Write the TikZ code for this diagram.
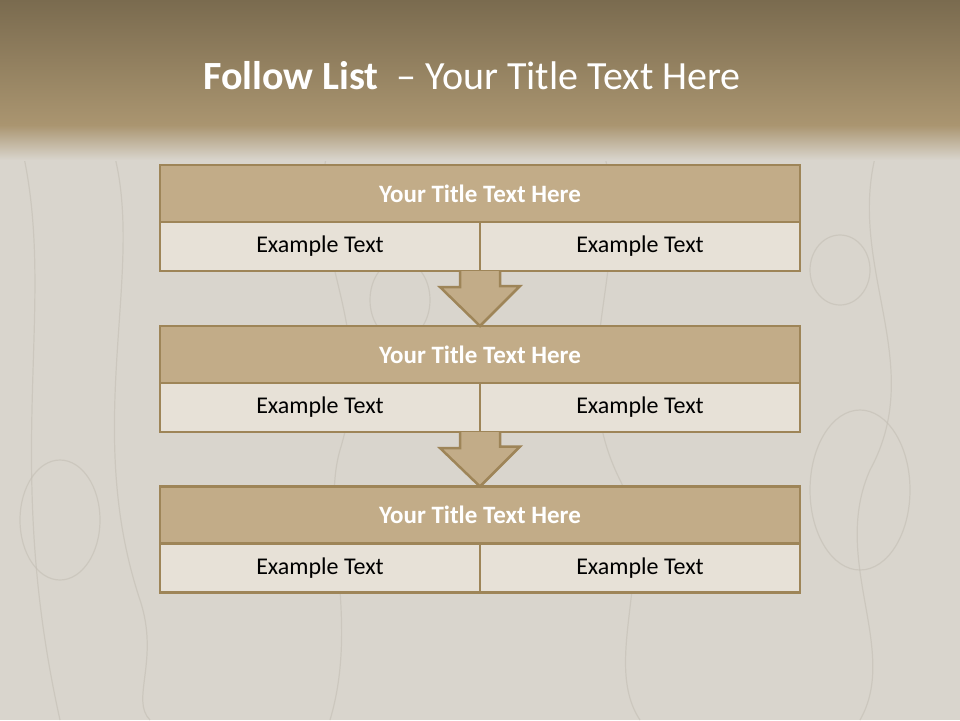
\documentclass[tikz,border=0pt]{standalone}
\usepackage{fontspec}
\setmainfont{Carlito}
\usetikzlibrary{calc}
\definecolor{edge}{HTML}{9E8558}
\definecolor{headfill}{HTML}{C2AC88}
\definecolor{rowfill}{HTML}{E7E1D7}
\definecolor{bandtop}{HTML}{7A6B4F}
\definecolor{bandbot}{HTML}{AA9570}
\definecolor{wood}{HTML}{D9D5CD}
\definecolor{grain}{HTML}{C4BFB5}
\tikzset{
  header/.style={draw=edge, line width=2.5pt, fill=headfill, minimum width=640pt, minimum height=57pt, inner sep=0pt, outer sep=0pt, font=\fontsize{25}{28}\selectfont\bfseries, text=white},
  cell/.style={draw=edge, line width=2.5pt, fill=rowfill, minimum width=320pt, minimum height=49pt, inner sep=0pt, outer sep=0pt, font=\fontsize{24}{28}\selectfont, text=black},
  flowarrow/.style={draw=edge, line width=2.5pt, fill=headfill, line join=miter},
  grainline/.style={draw=grain, line width=1.2pt, opacity=0.6}
}
\begin{document}
\begin{tikzpicture}[x=1pt,y=-1pt]
\useasboundingbox (0,0) rectangle (960,720);
% background
\fill[wood] (0,0) rectangle (960,720);
% faint wood grain
\draw[grainline] (20,140) .. controls (60,300) and (0,450) .. (60,720);
\draw[grainline] (110,140) .. controls (150,260) and (80,420) .. (140,600) .. controls (160,660) and (130,700) .. (150,720);
\draw[grainline] (330,140) .. controls (300,250) and (380,320) .. (340,450) .. controls (320,520) and (360,620) .. (330,720);
\draw[grainline] (600,140) .. controls (640,260) and (560,360) .. (620,480) .. controls (660,560) and (600,660) .. (640,720);
\draw[grainline] (880,140) .. controls (840,260) and (930,360) .. (870,470) .. controls (830,560) and (900,650) .. (860,720);
\draw[grainline] (60,520) ellipse (40 and 60);
\draw[grainline] (860,490) ellipse (50 and 80);
\draw[grainline] (400,300) ellipse (30 and 40);
\draw[grainline] (840,270) ellipse (30 and 35);
% title band
\shade[top color=bandtop, bottom color=bandbot] (0,0) rectangle (960,125);
\shade[top color=bandbot, bottom color=wood] (0,125) rectangle (960,160);
\node[text=white, font=\fontsize{40}{46}\selectfont] (title) at (472,76) {\textbf{Follow List}\ \ – Your Title Text Here};
% boxes
\node[header] (h1) at (480,193.5) {Your Title Text Here};
\node[cell, anchor=north east] (l1) at (h1.south) {Example Text};
\node[cell, anchor=north west] (r1) at (h1.south) {Example Text};
\node[header] (h2) at (480,354.5) {Your Title Text Here};
\node[cell, anchor=north east] (l2) at (h2.south) {Example Text};
\node[cell, anchor=north west] (r2) at (h2.south) {Example Text};
\node[header] (h3) at (480,515) {Your Title Text Here};
\node[cell, anchor=north east] (l3) at (h3.south) {Example Text};
\node[cell, anchor=north west] (r3) at (h3.south) {Example Text};
% arrows
\draw[flowarrow] ($(l1.south east)+(-20,0)$) -- ++(0,16) -- ++(-20,0) -- (h2.north) -- ++(40,-40) -- ++(-20,0) -- ($(l1.south east)+(20,0)$);
\draw[flowarrow] ($(l2.south east)+(-20,0)$) -- ++(0,16) -- ++(-20,0) -- (h3.north) -- ++(40,-40) -- ++(-20,0) -- ($(l2.south east)+(20,0)$);
\end{tikzpicture}
\end{document}
